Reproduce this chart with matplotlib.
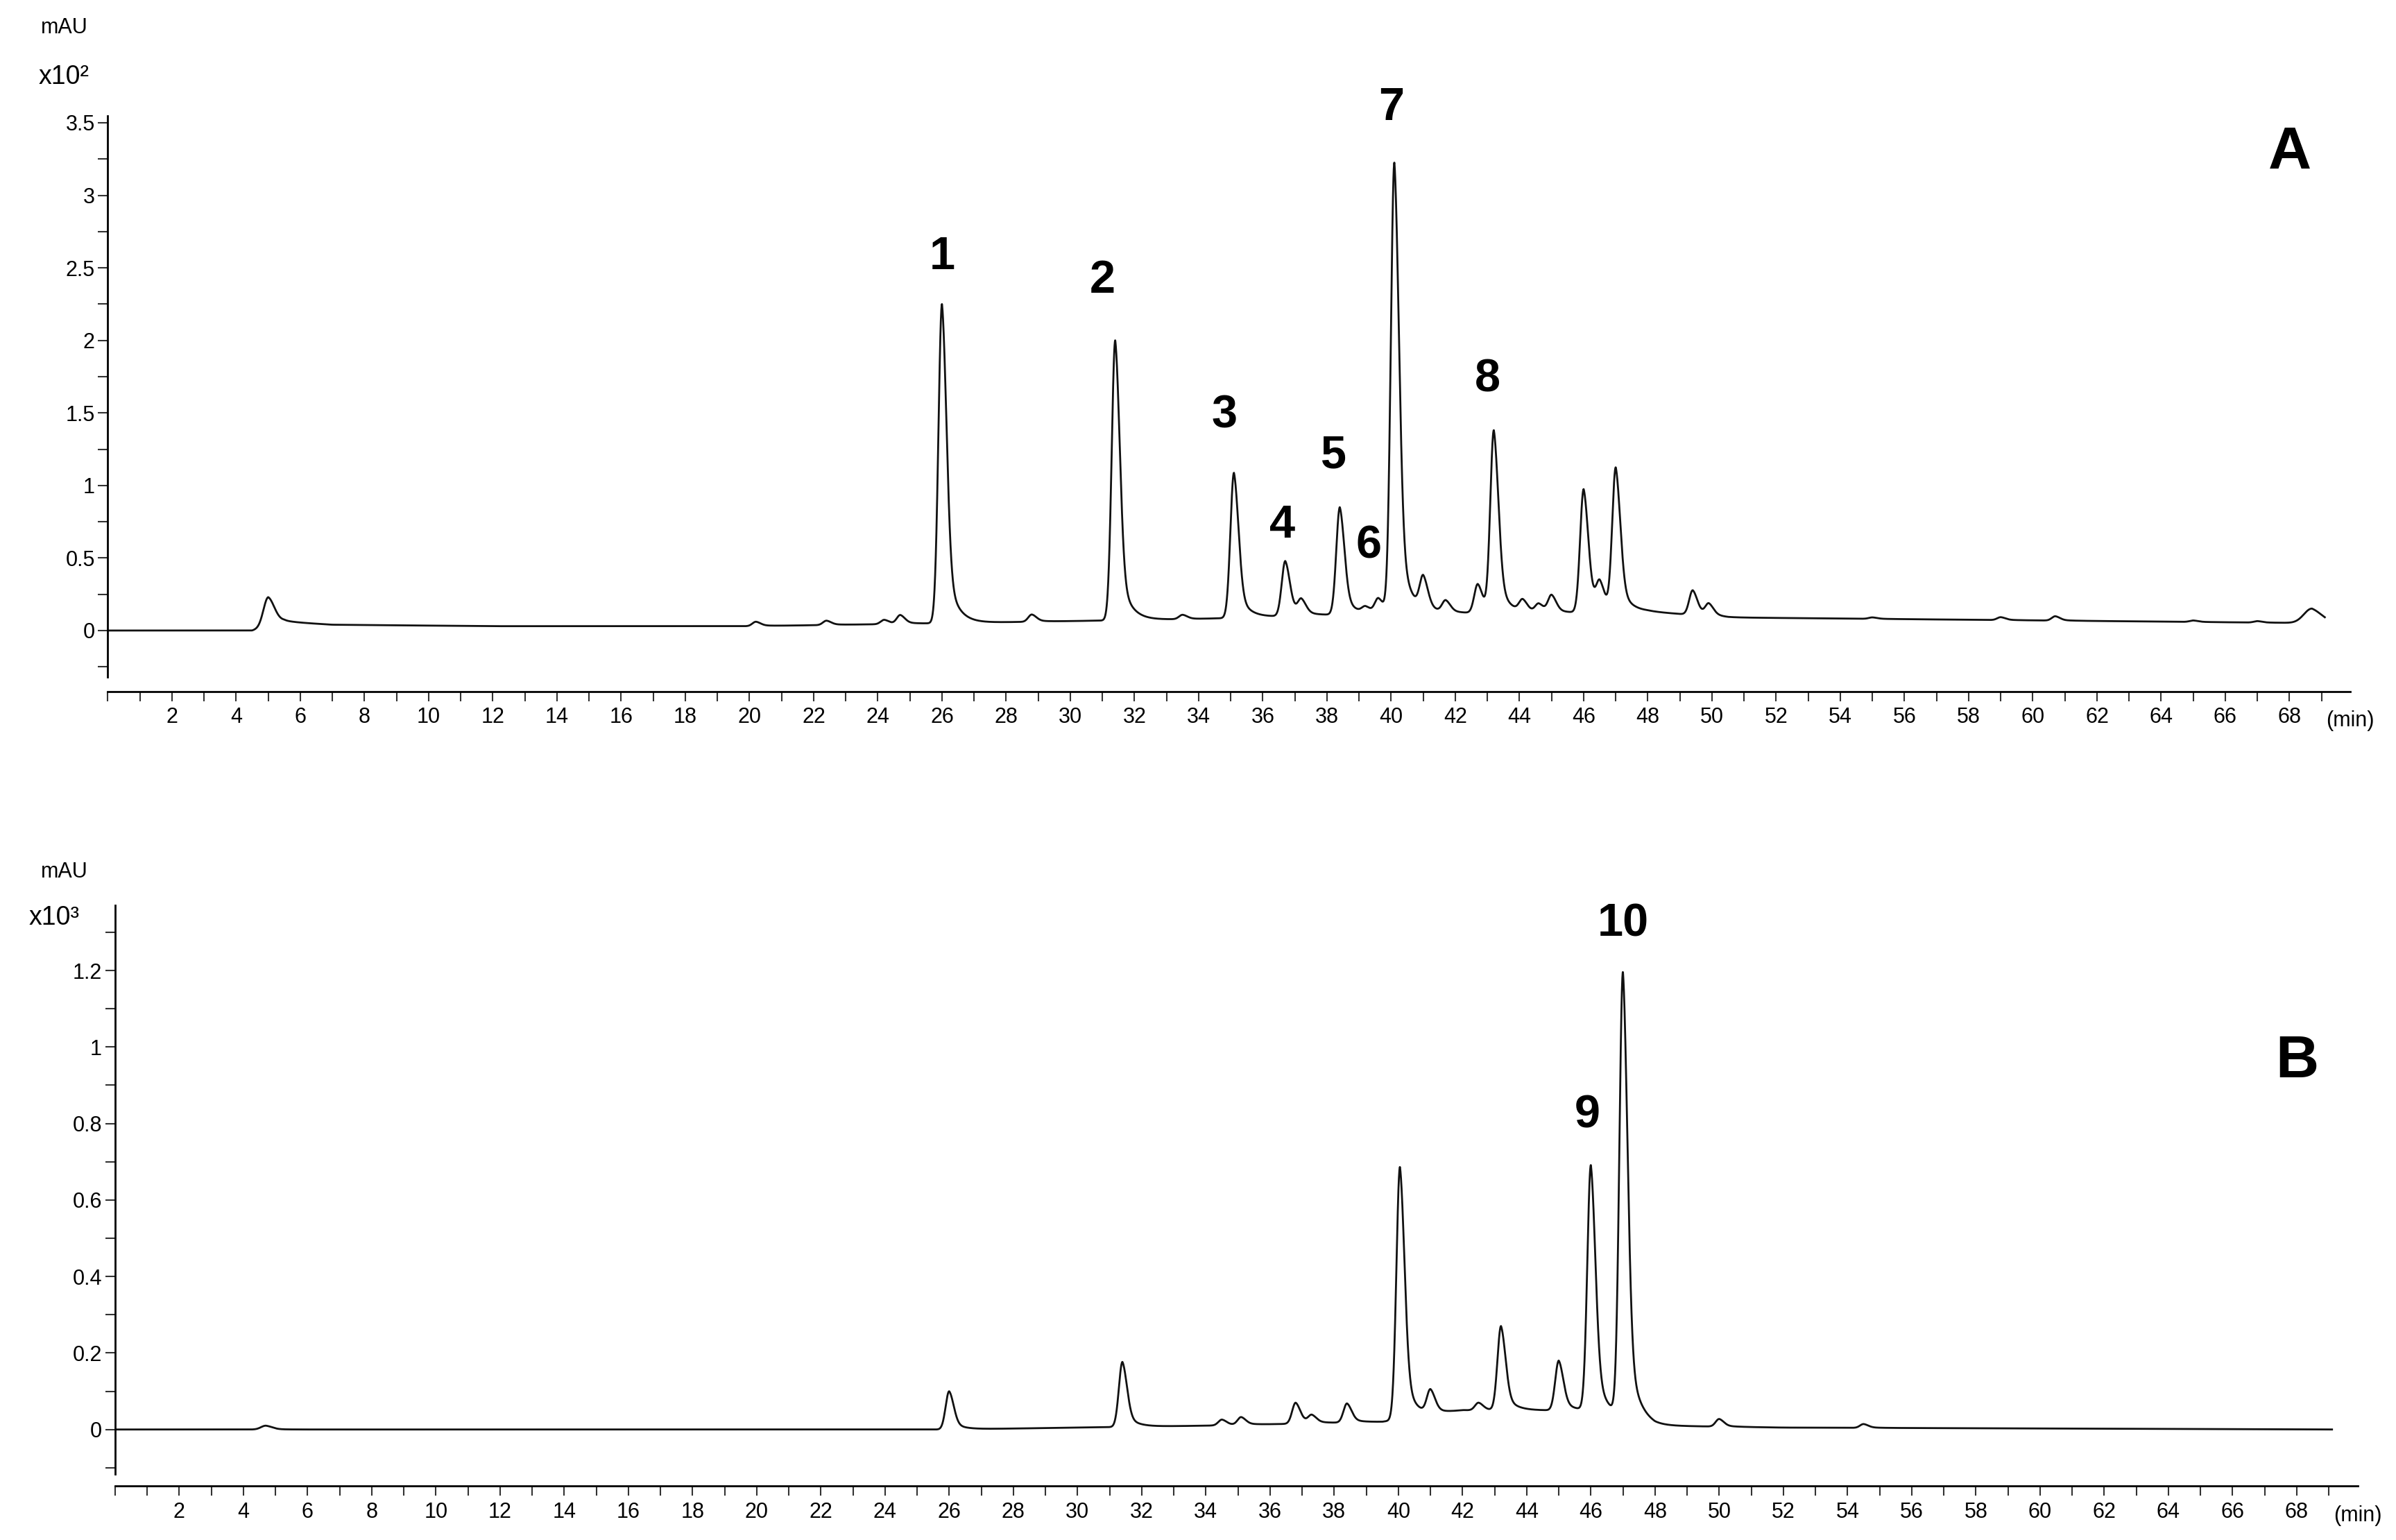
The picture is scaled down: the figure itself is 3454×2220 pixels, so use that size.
import numpy as np
import matplotlib
matplotlib.use("Agg")
import matplotlib.pyplot as plt
from matplotlib.ticker import MultipleLocator
import matplotlib.transforms as mtrans

plt.rcParams['font.family'] = ['Liberation Sans', 'DejaVu Sans']

# ---- data ----
# Chromatogram A (x10^2 mAU): peak times, heights
a_times = [5.0, 20.2, 22.4, 24.2, 24.7, 26.0, 28.8, 31.4, 33.5, 35.1, 36.7, 37.2, 38.4, 39.2, 39.6,
           40.1, 41.0, 41.7, 42.7, 43.2, 44.1, 44.6, 45.0, 46.0, 46.5, 47.0, 49.4, 49.9, 55.0, 59.0, 60.7, 65.0, 67.0, 68.7]
a_heights = [0.20, 0.03, 0.03, 0.03, 0.06, 2.20, 0.05, 1.93, 0.03, 1.0, 0.38, 0.10, 0.74, 0.04, 0.10,
             3.10, 0.22, 0.08, 0.20, 1.25, 0.08, 0.06, 0.12, 0.85, 0.18, 0.98, 0.17, 0.08, 0.01, 0.02, 0.03, 0.01, 0.01, 0.10]
a_base_t = [0, 4.5, 5.5, 7, 12, 20, 26, 34, 40, 45, 48, 50.5, 60, 69.3]
a_base_v = [0.0, 0.0, 0.06, 0.04, 0.03, 0.03, 0.05, 0.08, 0.12, 0.12, 0.13, 0.09, 0.07, 0.05]

# Chromatogram B (x10^3 mAU)
b_times = [4.7, 26.0, 31.4, 34.5, 35.1, 36.8, 37.3, 38.4, 40.05, 41.0, 42.5, 43.2, 45.0, 46.0, 47.0, 50.0, 54.5]
b_heights = [0.01, 0.10, 0.17, 0.015, 0.02, 0.055, 0.02, 0.05, 0.66, 0.06, 0.02, 0.22, 0.13, 0.64, 1.16, 0.02, 0.01]
b_base_t = [0, 26, 34, 39.5, 42, 46, 48, 52, 69.3]
b_base_v = [0.0, 0.0, 0.01, 0.02, 0.05, 0.05, 0.01, 0.005, 0.0]

a_labels = ['1', '2', '3', '4', '5', '6', '7', '8']
a_label_x = [26.0, 31.0, 34.8, 36.6, 38.2, 39.3, 40.0, 43.0]
a_label_y = [2.57, 2.41, 1.48, 0.72, 1.20, 0.58, 3.60, 1.73]
b_labels = ['9', '10']
b_label_x = [45.9, 47.0]
b_label_y = [0.82, 1.32]

x_ticklabels = list(range(2, 70, 2))

t = np.linspace(0, 69.1, 14000)


def peak(t, t0, h, s=0.11, tau=0.3):
    left = np.exp(-0.5 * ((t - t0) / s) ** 2)
    d = t - t0
    right = 0.72 * np.exp(-0.5 * (d / (1.3 * s)) ** 2) + 0.28 * np.exp(-np.clip(d, 0, None) / tau)
    return h * np.where(d < 0, left, right)


def trace(times, heights, bt, bv):
    y = np.interp(t, bt, bv)
    for t0, h in zip(times, heights):
        s = 0.11 if t0 > 10 else 0.15
        if t0 > 68:
            s = 0.25
        y = y + peak(t, t0, h, s)
    return y


ya = trace(a_times, a_heights, a_base_t, a_base_v)
yb = trace(b_times, b_heights, b_base_t, b_base_v)

fig = plt.figure(figsize=(34.54, 22.2), dpi=100)
axA = fig.add_axes([0.045, 0.551, 0.936, 0.374])
axB = fig.add_axes([0.048, 0.035, 0.936, 0.377])


def style(ax, ylim, spine_lo, major, minor):
    ax.set_xlim(0, 69.9)
    ax.set_ylim(*ylim)
    ax.spines['top'].set_visible(False)
    ax.spines['right'].set_visible(False)
    ax.spines['left'].set_bounds(spine_lo, ylim[1])
    ax.spines['left'].set_linewidth(2)
    ax.spines['bottom'].set_linewidth(2)
    ax.set_xticks(x_ticklabels)
    ax.set_xticklabels([str(v) for v in x_ticklabels])
    ax.xaxis.set_minor_locator(MultipleLocator(1))
    ax.yaxis.set_major_locator(MultipleLocator(major))
    ax.yaxis.set_minor_locator(MultipleLocator(minor))
    ax.tick_params(axis='both', which='major', labelsize=22, length=10, width=1.5, color='#333333')
    ax.tick_params(axis='both', which='minor', length=10, width=1.5, color='#333333')
    ax.tick_params(axis='x', pad=6)
    trans = mtrans.blended_transform_factory(ax.transData, ax.transAxes)
    ax.text(69.9, -0.033, '(min)', transform=trans, ha='center', va='top', fontsize=22)


axA.plot(t, ya, color='#111111', lw=2.0)
style(axA, (-0.42, 3.55), -0.32, 0.5, 0.25)
axA.set_yticks([0, 0.5, 1, 1.5, 2, 2.5, 3, 3.5])
axA.set_yticklabels(['0', '0.5', '1', '1.5', '2', '2.5', '3', '3.5'])

axB.plot(t, yb, color='#111111', lw=2.0)
style(axB, (-0.148, 1.37), -0.116, 0.2, 0.1)
axB.set_yticks([0, 0.2, 0.4, 0.6, 0.8, 1.0, 1.2])
axB.set_yticklabels(['0', '0.2', '0.4', '0.6', '0.8', '1', '1.2'])

for lab, x, y in zip(a_labels, a_label_x, a_label_y):
    axA.text(x, y, lab, ha='center', va='center', fontsize=48, fontweight='bold')
axA.text(68.0, 3.29, 'A', ha='center', va='center', fontsize=62, fontweight='bold')
for lab, x, y in zip(b_labels, b_label_x, b_label_y):
    axB.text(x, y, lab, ha='center', va='center', fontsize=48, fontweight='bold')
axB.text(68.0, 0.96, 'B', ha='center', va='center', fontsize=62, fontweight='bold')

fig.text(0.017, 0.982, 'mAU', fontsize=22, va='center', ha='left')
fig.text(0.016, 0.950, 'x10²', fontsize=27, va='center', ha='left')
fig.text(0.017, 0.434, 'mAU', fontsize=22, va='center', ha='left')
fig.text(0.012, 0.404, 'x10³', fontsize=27, va='center', ha='left')

fig.savefig('out.png', dpi=100, facecolor='white')
